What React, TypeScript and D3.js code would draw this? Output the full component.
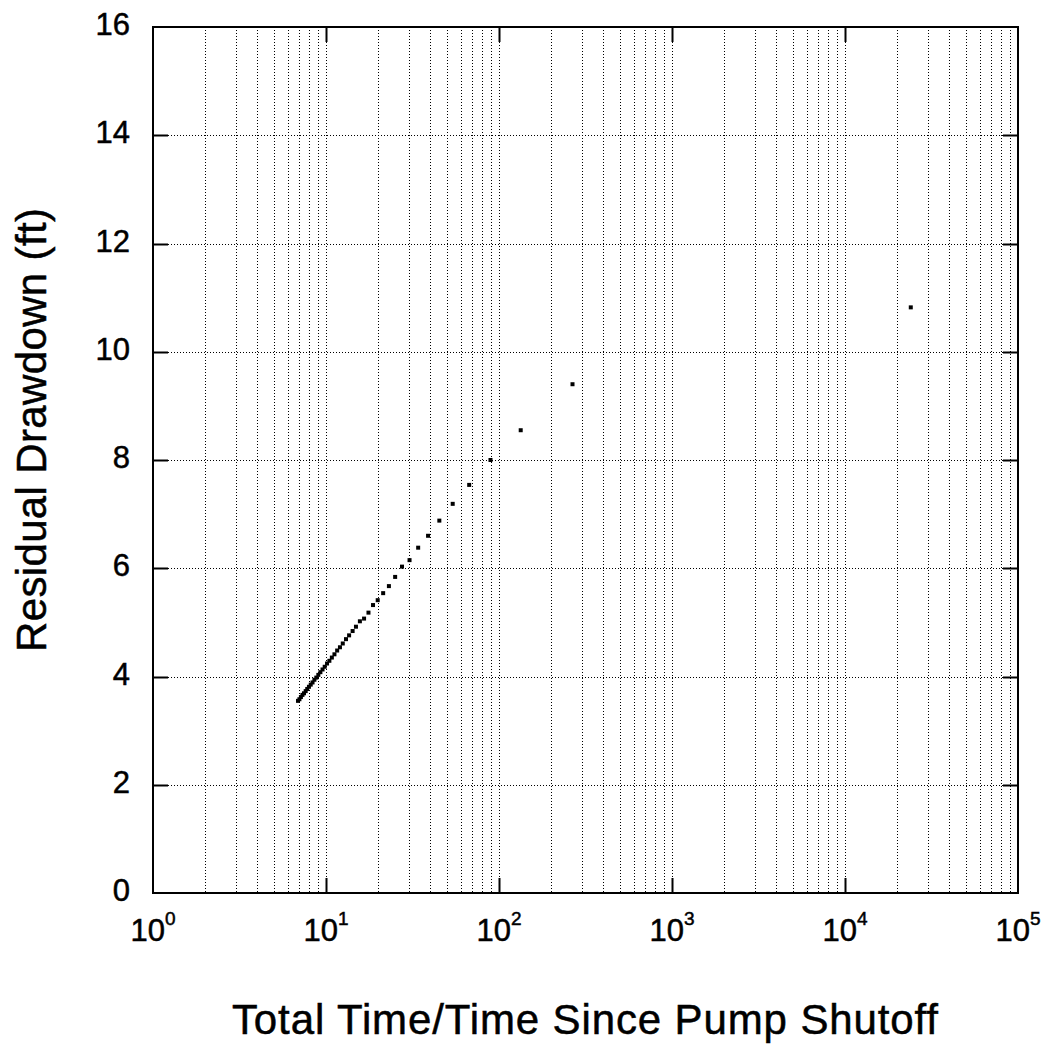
import React from "react";
import * as d3 from "d3";

const ratioValues: number[] = [
  24000, 266, 133.5, 89.3, 67.25, 54, 45.2, 38.9, 34.1, 30.4, 27.5, 25.1, 23.1, 21.4, 19.9,
  18.7, 17.6, 16.6, 15.7, 14.9, 14.25, 13.6, 13.05, 12.5, 12.04, 11.6, 11.19, 10.81, 10.46,
  10.14, 9.83, 9.55, 9.28, 9.03, 8.79, 8.57, 8.36, 8.16, 7.97, 7.79, 7.63, 7.46, 7.31, 7.16,
  7.02, 6.89,
];
const drawdownValues: number[] = [
  10.82, 9.4, 8.55, 8.0, 7.54, 7.19, 6.88, 6.6, 6.38, 6.15, 6.03, 5.84, 5.67, 5.54, 5.41,
  5.32, 5.18, 5.07, 5.02, 4.92, 4.84, 4.76, 4.69, 4.61, 4.54, 4.48, 4.41, 4.35, 4.29,
  4.24, 4.18, 4.13, 4.08, 4.03, 3.98, 3.94, 3.89, 3.85, 3.81, 3.77, 3.73, 3.69, 3.66, 3.62,
  3.58, 3.55,
];
const yTicks: number[] = [0, 2, 4, 6, 8, 10, 12, 14, 16];
const xDecades: number[] = [0, 1, 2, 3, 4, 5];
const xTitle = "Total Time/Time Since Pump Shutoff";
const yTitle = "Residual Drawdown (ft)";

export default function App() {
  const W = 1049, H = 1044;
  const left = 153, right = 1018, top = 27, bottom = 893;
  const x = d3.scaleLog().domain([1, 1e5]).range([left, right]);
  const y = d3.scaleLinear().domain([0, 16]).range([bottom, top]);
  const font = "Liberation Sans, Arial, Helvetica, sans-serif";

  const minorTicks: number[] = [];
  for (let d = 0; d < 5; d++) {
    for (let m = 2; m <= 9; m++) minorTicks.push(m * Math.pow(10, d));
  }
  const gridStyle = { stroke: "#000", strokeWidth: 1, strokeDasharray: "1,2" };
  const textStyle = { stroke: "#000", strokeWidth: 0.5 };

  return (
    <svg width={W} height={H} style={{ position: "absolute", left: 0, top: 0, background: "#fff" }}>
      <rect x={0} y={0} width={W} height={H} fill="#fff" />
      {[...minorTicks, ...xDecades.slice(1, 5).map((d) => Math.pow(10, d))].map((v, i) => (
        <line key={"vg" + i} x1={Math.round(x(v)) + 0.5} x2={Math.round(x(v)) + 0.5} y1={top} y2={bottom} style={gridStyle} />
      ))}
      {yTicks.slice(1, -1).map((v) => (
        <line key={"hg" + v} x1={left} x2={right} y1={Math.round(y(v)) + 0.5} y2={Math.round(y(v)) + 0.5} style={gridStyle} />
      ))}
      {yTicks.slice(1, -1).map((v) => (
        <g key={"yt" + v}>
          <line x1={left} x2={left + 15} y1={Math.round(y(v)) + 0.5} y2={Math.round(y(v)) + 0.5} stroke="#000" strokeWidth={2} />
          <line x1={right - 15} x2={right} y1={Math.round(y(v)) + 0.5} y2={Math.round(y(v)) + 0.5} stroke="#000" strokeWidth={2} />
        </g>
      ))}
      {xDecades.slice(1, 5).map((d) => {
        const px = Math.round(x(Math.pow(10, d))) + 0.5;
        return (
          <g key={"xt" + d}>
            <line x1={px} x2={px} y1={bottom} y2={bottom - 15} stroke="#000" strokeWidth={2} />
            <line x1={px} x2={px} y1={top} y2={top + 15} stroke="#000" strokeWidth={2} />
          </g>
        );
      })}
      <rect x={left} y={top} width={right - left} height={bottom - top} fill="none" stroke="#000" strokeWidth={2} />
      {ratioValues.map((v, i) => (
        <rect key={"p" + i} x={x(v) - 2} y={y(drawdownValues[i]) - 2} width={4} height={4} fill="#000" />
      ))}
      {yTicks.map((v) => (
        <text key={"yl" + v} x={130} y={y(v) + 8} textAnchor="end" fontFamily={font} fontSize={31} fill="#000" style={textStyle}>
          {v}
        </text>
      ))}
      {xDecades.map((d) => (
        <text key={"xl" + d} x={x(Math.pow(10, d))} y={941} textAnchor="middle" fontFamily={font} fontSize={31} fill="#000" style={textStyle}>
          10
          <tspan dy={-16} fontSize={19}>{d}</tspan>
        </text>
      ))}
      <text x={232} y={1034} textLength={706} lengthAdjust="spacing" fontFamily={font} fontSize={42} fill="#000" style={textStyle}>
        {xTitle}
      </text>
      <text transform={`translate(46, 652) rotate(-90)`} textLength={444} lengthAdjust="spacing" fontFamily={font} fontSize={42} fill="#000" style={textStyle}>
        {yTitle}
      </text>
    </svg>
  );
}
